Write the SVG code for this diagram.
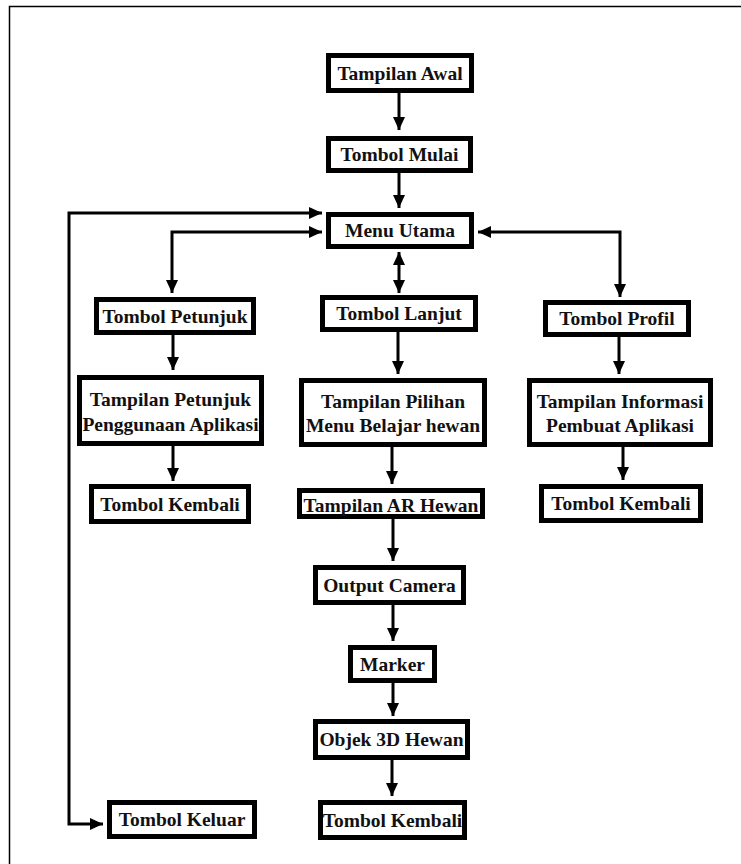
<svg xmlns="http://www.w3.org/2000/svg" width="741" height="864" viewBox="0 0 741 864">
<style>
.box{fill:#fff;stroke:#000;stroke-width:5}
.t{font-family:'Liberation Serif','Times New Roman',serif;font-weight:700;font-size:19.5px;fill:#111;text-anchor:middle;dominant-baseline:central}
.c{fill:none;stroke:#000;stroke-width:3}
</style>
<defs>
<marker id="ah" markerUnits="userSpaceOnUse" markerWidth="14" markerHeight="12" refX="13" refY="6" orient="auto-start-reverse">
<path d="M0,0 L13,6 L0,12 z" fill="#000"/>
</marker>
</defs>
<rect width="741" height="864" fill="#fff"/>
<path d="M9.5,864 V6.5 H741" fill="none" stroke="#000" stroke-width="1.5"/>
<g id="connectors">
<path class="c" d="M399,93 V130" marker-end="url(#ah)"/>
<path class="c" d="M399,173 V208" marker-end="url(#ah)"/>
<path class="c" d="M322,213 H69 V824 H103" marker-start="url(#ah)" marker-end="url(#ah)"/>
<path class="c" d="M322,232 H172 V293" marker-start="url(#ah)" marker-end="url(#ah)"/>
<path class="c" d="M478,232 H620 V297" marker-start="url(#ah)" marker-end="url(#ah)"/>
<path class="c" d="M399,252 V293" marker-start="url(#ah)" marker-end="url(#ah)"/>
<path class="c" d="M173,335 V370" marker-end="url(#ah)"/>
<path class="c" d="M173,446 V481" marker-end="url(#ah)"/>
<path class="c" d="M398,332 V374" marker-end="url(#ah)"/>
<path class="c" d="M392,447 V484" marker-end="url(#ah)"/>
<path class="c" d="M619,337 V374" marker-end="url(#ah)"/>
<path class="c" d="M623,447 V480" marker-end="url(#ah)"/>
<path class="c" d="M393,519 V561" marker-end="url(#ah)"/>
<path class="c" d="M393,605 V641" marker-end="url(#ah)"/>
<path class="c" d="M393,683 V716" marker-end="url(#ah)"/>
<path class="c" d="M392,760 V796" marker-end="url(#ah)"/>
</g>
<g id="n1"><rect class="box" x="328.5" y="55.5" width="143" height="35"/><text class="t" x="400" y="73">Tampilan Awal</text></g>
<g id="n2"><rect class="box" x="328.5" y="138.5" width="142" height="32"/><text class="t" x="399.5" y="154.5">Tombol Mulai</text></g>
<g id="n3"><rect class="box" x="328.5" y="214.5" width="143" height="32"/><text class="t" x="400" y="230.5">Menu Utama</text></g>
<g id="n4"><rect class="box" x="96.5" y="299.5" width="157" height="33"/><text class="t" x="175" y="316">Tombol Petunjuk</text></g>
<g id="n5"><rect class="box" x="322.5" y="297.5" width="153" height="32"/><text class="t" x="399" y="313.5">Tombol Lanjut</text></g>
<g id="n6"><rect class="box" x="545.5" y="302.5" width="143" height="32"/><text class="t" x="617" y="318.5">Tombol Profil</text></g>
<g id="n7"><rect class="box" x="79.5" y="377.5" width="182" height="66"/><text class="t" x="170.5" y="399">Tampilan Petunjuk</text><text class="t" x="170.5" y="424">Penggunaan Aplikasi</text></g>
<g id="n8"><rect class="box" x="301.5" y="380.5" width="183" height="64"/><text class="t" x="393" y="401">Tampilan Pilihan</text><text class="t" x="393" y="425">Menu Belajar hewan</text></g>
<g id="n9"><rect class="box" x="529.5" y="380.5" width="181" height="64"/><text class="t" x="620" y="401">Tampilan Informasi</text><text class="t" x="620" y="425">Pembuat Aplikasi</text></g>
<g id="n10"><rect class="box" x="91.5" y="486.5" width="157" height="35"/><text class="t" x="170" y="504">Tombol Kembali</text></g>
<g id="n11"><rect class="box" x="299.5" y="490.5" width="183" height="26"/><text class="t" x="391" y="505">Tampilan AR Hewan</text></g>
<g id="n12"><rect class="box" x="541.5" y="486.5" width="159" height="34"/><text class="t" x="621" y="503.5">Tombol Kembali</text></g>
<g id="n13"><rect class="box" x="315.5" y="567.5" width="148" height="35"/><text class="t" x="389.5" y="585">Output Camera</text></g>
<g id="n14"><rect class="box" x="350.5" y="647.5" width="84" height="33"/><text class="t" x="392.5" y="664">Marker</text></g>
<g id="n15"><rect class="box" x="315.5" y="721.5" width="152" height="36"/><text class="t" x="391.5" y="739.5">Objek 3D Hewan</text></g>
<g id="n16"><rect class="box" x="320.5" y="802.5" width="144" height="35"/><text class="t" x="392.5" y="820">Tombol Kembali</text></g>
<g id="n17"><rect class="box" x="109.5" y="802.5" width="145" height="34"/><text class="t" x="182" y="819.5">Tombol Keluar</text></g>
</svg>
